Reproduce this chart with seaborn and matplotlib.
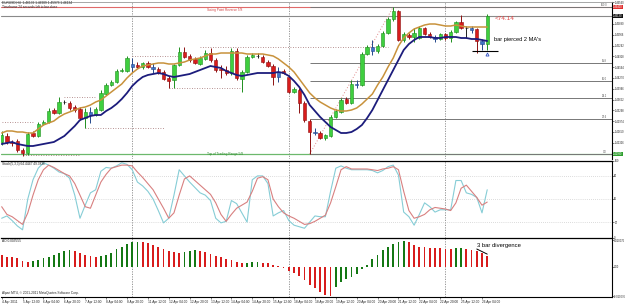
import numpy as np
import matplotlib
matplotlib.use("Agg")
import matplotlib.pyplot as plt
import matplotlib.transforms as mtransforms
import seaborn as sns

# EURUSD H4 candles
opens = [1.4235, 1.4253, 1.4235, 1.4238, 1.4211, 1.4202, 1.4262, 1.4253, 1.4289, 1.4295,
         1.4331, 1.4322, 1.4355, 1.4352, 1.4340, 1.4334, 1.4307, 1.4325, 1.4316, 1.4331,
         1.4379, 1.4406, 1.4415, 1.4448, 1.4448, 1.4469, 1.4466, 1.4460, 1.4472, 1.4460,
         1.4454, 1.4445, 1.4427, 1.4421, 1.4466, 1.4505, 1.4493, 1.4484, 1.4469, 1.4484,
         1.4502, 1.4481, 1.4454, 1.4451, 1.4442, 1.4508, 1.4424, 1.4445, 1.4490, 1.4493,
         1.4490, 1.4475, 1.4463, 1.4430, 1.4448, 1.4430, 1.4385, 1.4391, 1.4352, 1.4298,
         1.4265, 1.4262, 1.4247, 1.4253, 1.4310, 1.4325, 1.4364, 1.4352, 1.4409, 1.4406,
         1.4499, 1.4520, 1.4508, 1.4523, 1.4562, 1.4604, 1.4628, 1.4541, 1.4556, 1.4550,
         1.4547, 1.4577, 1.4559, 1.4550, 1.4544, 1.4559, 1.4547, 1.4565, 1.4595, 1.4577,
         1.4577, 1.4574, 1.4538, 1.4529]
highs = [1.4268, 1.4262, 1.4241, 1.4244, 1.4217, 1.4265, 1.4268, 1.4295, 1.4301, 1.4337,
         1.4337, 1.4370, 1.4361, 1.4358, 1.4346, 1.4340, 1.4337, 1.4340, 1.4340, 1.4391,
         1.4412, 1.4421, 1.4454, 1.4457, 1.4493, 1.4487, 1.4475, 1.4475, 1.4478, 1.4472,
         1.4460, 1.4451, 1.4433, 1.4469, 1.4520, 1.4520, 1.4499, 1.4490, 1.4493, 1.4511,
         1.4517, 1.4487, 1.4466, 1.4463, 1.4517, 1.4517, 1.4451, 1.4496, 1.4502, 1.4502,
         1.4496, 1.4481, 1.4469, 1.4460, 1.4454, 1.4436, 1.4400, 1.4397, 1.4358, 1.4304,
         1.4277, 1.4268, 1.4259, 1.4316, 1.4334, 1.4367, 1.4370, 1.4421, 1.4421, 1.4505,
         1.4526, 1.4541, 1.4529, 1.4568, 1.4610, 1.4640, 1.4631, 1.4565, 1.4562, 1.4577,
         1.4583, 1.4580, 1.4565, 1.4556, 1.4562, 1.4562, 1.4571, 1.4598, 1.4616, 1.4583,
         1.4583, 1.4577, 1.4544, 1.4619]
lows = [1.4226, 1.4229, 1.4223, 1.4205, 1.4193, 1.4196, 1.4250, 1.4250, 1.4286, 1.4292,
        1.4319, 1.4319, 1.4349, 1.4331, 1.4325, 1.4301, 1.4277, 1.4292, 1.4313, 1.4328,
        1.4376, 1.4403, 1.4412, 1.4445, 1.4445, 1.4445, 1.4457, 1.4454, 1.4457, 1.4442,
        1.4439, 1.4421, 1.4397, 1.4397, 1.4463, 1.4487, 1.4475, 1.4469, 1.4466, 1.4481,
        1.4475, 1.4445, 1.4427, 1.4436, 1.4436, 1.4421, 1.4385, 1.4442, 1.4487, 1.4487,
        1.4472, 1.4460, 1.4406, 1.4415, 1.4439, 1.4382, 1.4382, 1.4322, 1.4295, 1.4199,
        1.4256, 1.4244, 1.4241, 1.4250, 1.4307, 1.4322, 1.4349, 1.4349, 1.4397, 1.4403,
        1.4496, 1.4496, 1.4502, 1.4520, 1.4559, 1.4598, 1.4538, 1.4535, 1.4544, 1.4535,
        1.4544, 1.4556, 1.4547, 1.4535, 1.4541, 1.4541, 1.4535, 1.4562, 1.4574, 1.4547,
        1.4562, 1.4502, 1.4511, 1.4511]
closes = [1.4256, 1.4235, 1.4232, 1.4211, 1.4202, 1.4259, 1.4253, 1.4289, 1.4295, 1.4328,
          1.4322, 1.4355, 1.4355, 1.4337, 1.4331, 1.4307, 1.4325, 1.4316, 1.4334, 1.4382,
          1.4406, 1.4415, 1.4448, 1.4451, 1.4487, 1.4460, 1.4460, 1.4472, 1.4460, 1.4454,
          1.4442, 1.4424, 1.4418, 1.4466, 1.4505, 1.4490, 1.4481, 1.4472, 1.4487, 1.4502,
          1.4481, 1.4451, 1.4451, 1.4442, 1.4508, 1.4427, 1.4445, 1.4490, 1.4496, 1.4493,
          1.4475, 1.4463, 1.4430, 1.4445, 1.4442, 1.4385, 1.4394, 1.4352, 1.4301, 1.4265,
          1.4262, 1.4247, 1.4256, 1.4310, 1.4328, 1.4361, 1.4352, 1.4409, 1.4406, 1.4499,
          1.4520, 1.4508, 1.4523, 1.4562, 1.4604, 1.4628, 1.4541, 1.4559, 1.4550, 1.4562,
          1.4577, 1.4559, 1.4550, 1.4544, 1.4559, 1.4547, 1.4565, 1.4595, 1.4577, 1.4577,
          1.4571, 1.4538, 1.4529, 1.4613]
blue_bars = [17, 25, 29, 53, 60, 68, 71, 83, 90, 92]

# the two moving averages on the price chart
ma_fast = [1.4262, 1.4268, 1.4268, 1.4265, 1.4265, 1.4262, 1.4262, 1.4274, 1.4286, 1.4292,
           1.4298, 1.4310, 1.4319, 1.4325, 1.4331, 1.4337, 1.4340, 1.4346, 1.4355, 1.4361,
           1.4373, 1.4385, 1.4397, 1.4409, 1.4427, 1.4442, 1.4454, 1.4463, 1.4466, 1.4469,
           1.4472, 1.4472, 1.4469, 1.4469, 1.4472, 1.4475, 1.4481, 1.4484, 1.4487, 1.4493,
           1.4499, 1.4499, 1.4502, 1.4502, 1.4502, 1.4502, 1.4502, 1.4499, 1.4499, 1.4499,
           1.4499, 1.4496, 1.4493, 1.4484, 1.4472, 1.4460, 1.4445, 1.4424, 1.4403, 1.4382,
           1.4367, 1.4355, 1.4346, 1.4337, 1.4331, 1.4328, 1.4328, 1.4331, 1.4337, 1.4349,
           1.4364, 1.4379, 1.4406, 1.4430, 1.4460, 1.4487, 1.4523, 1.4547, 1.4562, 1.4574,
           1.4580, 1.4586, 1.4589, 1.4589, 1.4586, 1.4583, 1.4583, 1.4586, 1.4583, 1.4580,
           1.4580, 1.4580, 1.4580, 1.4580]
ma_slow = [1.4229, 1.4232, 1.4235, 1.4229, 1.4226, 1.4223, 1.4223, 1.4226, 1.4229, 1.4232,
           1.4235, 1.4244, 1.4253, 1.4268, 1.4283, 1.4301, 1.4307, 1.4313, 1.4316, 1.4316,
           1.4328, 1.4337, 1.4349, 1.4364, 1.4382, 1.4403, 1.4418, 1.4430, 1.4436, 1.4439,
           1.4442, 1.4439, 1.4433, 1.4430, 1.4433, 1.4436, 1.4439, 1.4445, 1.4451, 1.4457,
           1.4463, 1.4460, 1.4457, 1.4448, 1.4442, 1.4436, 1.4433, 1.4436, 1.4439, 1.4442,
           1.4442, 1.4442, 1.4442, 1.4445, 1.4442, 1.4433, 1.4418, 1.4400, 1.4376, 1.4346,
           1.4328, 1.4310, 1.4295, 1.4280, 1.4271, 1.4262, 1.4262, 1.4265, 1.4274, 1.4286,
           1.4307, 1.4331, 1.4361, 1.4391, 1.4421, 1.4451, 1.4481, 1.4511, 1.4529, 1.4541,
           1.4550, 1.4550, 1.4550, 1.4547, 1.4547, 1.4550, 1.4550, 1.4550, 1.4547, 1.4547,
           1.4544, 1.4544, 1.4541, 1.4538]

# Stochastic (5,3,3)
stoch_main = [25, 28, 22, 15, 10, 50, 75, 90, 97, 94, 90, 85, 83, 77, 55, 25, 42, 58, 62, 86,
              91, 90, 93, 97, 95, 88, 72, 67, 60, 50, 35, 19, 25, 55, 88, 80, 72, 65, 58, 55,
              48, 25, 19, 21, 48, 44, 32, 20, 75, 80, 80, 70, 28, 32, 35, 22, 16, 14, 12, 20,
              28, 27, 27, 60, 90, 93, 90, 88, 88, 88, 88, 87, 84, 87, 92, 94, 81, 33, 27, 16,
              30, 45, 40, 33, 36, 36, 36, 74, 74, 58, 56, 52, 32, 62]
stoch_signal = [40, 30, 27, 22, 17, 32, 55, 75, 88, 94, 91, 87, 83, 80, 70, 55, 40, 38, 55, 72,
                82, 90, 92, 94, 94, 93, 85, 78, 70, 62, 50, 38, 25, 32, 55, 76, 80, 74, 68, 62,
                56, 45, 30, 21, 30, 38, 42, 46, 60, 77, 79, 75, 50, 40, 32, 28, 25, 21, 17, 18,
                21, 25, 29, 45, 66, 88, 92, 89, 89, 89, 89, 88, 87, 89, 90, 92, 88, 60, 35, 25,
                27, 30, 36, 39, 38, 37, 35, 45, 64, 68, 60, 52, 42, 46]

# Awesome Oscillator
ao = [0.00389, 0.00333, 0.00311, 0.00278, 0.00189, 0.00156, 0.00189, 0.00222, 0.00278, 0.00333,
      0.00389, 0.00467, 0.00522, 0.00556, 0.00533, 0.00444, 0.00389, 0.00356, 0.00333, 0.00356,
      0.00389, 0.00467, 0.00578, 0.00667, 0.00756, 0.00822, 0.00833, 0.00811, 0.00778, 0.00722,
      0.00667, 0.00589, 0.00522, 0.00478, 0.00467, 0.00500, 0.00533, 0.00556, 0.00533, 0.00478,
      0.00422, 0.00356, 0.00311, 0.00267, 0.00222, 0.00167, 0.00111, 0.00133, 0.00144, 0.00156,
      0.00133, 0.00122, 0.00067, 0.00011, -0.00044, -0.00133, -0.00222, -0.00311, -0.00444, -0.00611,
      -0.00722, -0.00833, -0.00944, -0.00967, -0.00667, -0.00500, -0.00422, -0.00333, -0.00244, -0.00089,
      0.00056, 0.00244, 0.00389, 0.00556, 0.00667, 0.00756, 0.00822, 0.00844, 0.00811, 0.00722,
      0.00667, 0.00644, 0.00633, 0.00622, 0.00611, 0.00600, 0.00589, 0.00611, 0.00622, 0.00578,
      0.00556, 0.00533, 0.00444, 0.00356]

x_labels = ['4 Apr 2011', '5 Apr 12:00', '6 Apr 04:00', '6 Apr 20:00', '7 Apr 12:00',
            '8 Apr 04:00', '8 Apr 20:00', '11 Apr 12:00', '12 Apr 04:00', '12 Apr 20:00',
            '13 Apr 12:00', '14 Apr 04:00', '14 Apr 20:00', '15 Apr 12:00', '18 Apr 04:00',
            '18 Apr 20:00', '19 Apr 12:00', '20 Apr 04:00', '20 Apr 20:00', '21 Apr 12:00',
            '22 Apr 04:00', '22 Apr 20:00', '25 Apr 12:00', '26 Apr 04:00']
week_starts = [25, 55, 85]
price_ticks = [1.46540, 1.45890, 1.45566, 1.45242, 1.44918, 1.44594, 1.44270,
               1.43946, 1.43622, 1.43298, 1.42974, 1.42650, 1.42326]
stoch_ticks = [0, 20, 50, 80, 100]
ao_ticks = [0.0088, 0.0, -0.0098]
ao_tick_labels = ['0.010076', '0.00', '-0.010076']

# drawn objects
swing_price = 1.4640
range_price = 1.4199
fib_low_bar, fib_high_bar = 59, 75
fib_low, fib_high = 1.4199, 1.4640
fib_levels = [0.0, 0.236, 0.382, 0.5, 0.618, 1.0]
dotted_levels = [(0, 6, 1.4295), (12, 18, 1.4370), (16, 31, 1.4277), (25, 34, 1.4493),
                 (32, 46, 1.4397), (4, 15, 1.4196), (38, 74, 1.4520)]

GREEN, GREEN_E = '#3fcf3f', '#1f8f1f'
RED, RED_E = '#d81c1c', '#8c1010'
BLUE, BLUE_E = '#3f74c8', '#24488c'
TICK_FS = 1.9

sns.set_style("white")
plt.rcParams['font.family'] = ['Liberation Sans', 'DejaVu Sans']

W, H = 625, 304
fig = plt.figure(figsize=(W / 100, H / 100), dpi=100)


def px_axes(x0, y0, x1, y1):
    return fig.add_axes([x0 / W, 1 - y1 / H, (x1 - x0) / W, (y1 - y0) / H])


ax = px_axes(1, 1.5, 612, 158.5)
ax_st = px_axes(1, 160.5, 612, 237.5)
ax_ao = px_axes(1, 238, 612, 297)

idx = np.arange(len(opens))
o, hi, lo, c = (np.array(v) for v in (opens, highs, lows, closes))

body_col = np.where(c > o, GREEN, np.where(c < o, RED, '#202020')).astype('<U9')
edge_col = np.where(c > o, GREEN_E, np.where(c < o, RED_E, '#202020')).astype('<U9')
for b in blue_bars:
    body_col[b] = BLUE
    edge_col[b] = BLUE_E

# --- price panel ---
ax.axhline(swing_price, color='#e06a6a', lw=0.8, zorder=1)
ax.axhline(range_price, color='#6cb86c', lw=0.9, zorder=1)
ax.axhline(closes[-1], color='#8a8a8a', lw=0.8, zorder=1)
for s, e, p in dotted_levels:
    ax.hlines(p, s, e, colors='#a07070', lw=0.6, linestyles=(0, (1, 2)), zorder=1)
ytrans = mtransforms.blended_transform_factory(ax.transAxes, ax.transData)
for r in fib_levels:
    p = fib_low + r * (fib_high - fib_low)
    ax.hlines(p, fib_low_bar, 117, colors='#777777', lw=0.7, zorder=1)
    ax.text(0.992, p, f"{r * 100:.1f}", transform=ytrans,
            fontsize=TICK_FS, ha='right', va='bottom', color='#555555')
ax.plot([fib_low_bar, fib_high_bar], [fib_low, fib_high], ls=(0, (1, 2)), color='#e08888', lw=0.7, zorder=1)

ax.vlines(idx, lo, hi, colors=edge_col, lw=0.7, zorder=3)
ax.bar(idx, np.maximum(np.abs(c - o), 0.00006), bottom=np.minimum(o, c), width=0.64,
       color=body_col, edgecolor=edge_col, linewidth=0.4, zorder=4)

sns.lineplot(x=idx, y=ma_fast, ax=ax, color='#c8923c', lw=1.1, zorder=5, legend=False)
sns.lineplot(x=idx, y=ma_slow, ax=ax, color='#1c1c7c', lw=1.3, zorder=5, legend=False)

ax.text(39.3, swing_price - 0.0002, "Swing Point Reverse 5/8", fontsize=2.3, color='#d04040', va='top')
ax.text(39.3, range_price - 0.0001, "Top of Trading Range 5/8", fontsize=2.3, color='#2a8a2a', va='center')
ax.text(94.5, 1.4604, "<74.14", fontsize=4.6, color='#e04444', va='center')
ax.text(94.3, 1.4544, "bar pierced 2 MA's", fontsize=4.1, color='black', va='center')
ax.hlines(1.4508, 90, 95, colors='black', lw=0.8, zorder=6)
ax.plot([93], [1.4499], marker='^', ms=2.2, mfc='none', mec='#3050c0', mew=0.6, zorder=6)

ax.set_ylim(1.41855, 1.46565)
ax.yaxis.tick_right()
ax.set_yticks(price_ticks)
ax.set_yticklabels([f"{p:.5f}" for p in price_ticks])

for p, fc in [(swing_price, '#e03030'), (closes[-1], '#111111'), (range_price, '#2f9f2f')]:
    ax.text(1.002, p, f"{p:.5f}", transform=ytrans, fontsize=TICK_FS, color='white', va='center', ha='left',
            bbox=dict(boxstyle='square,pad=0.15', fc=fc, ec='none'))

# --- stochastic panel ---
for lv in [20, 50, 80]:
    ax_st.axhline(lv, color='#bbbbbb', lw=0.5, ls=(0, (1, 2)))
sns.lineplot(x=idx, y=stoch_main, ax=ax_st, color='#86cdd6', lw=0.8, legend=False)
sns.lineplot(x=idx, y=stoch_signal, ax=ax_st, color='#d88080', lw=0.8, legend=False)
ax_st.set_ylim(0, 100)
ax_st.yaxis.tick_right()
ax_st.set_yticks(stoch_ticks)
ax_st.set_yticklabels([str(t) for t in stoch_ticks])

# --- AO panel ---
ao_arr = np.array(ao)
ao_col = ['#d81c1c'] + ['#147814' if ao_arr[i] > ao_arr[i - 1] else '#d81c1c' for i in range(1, len(ao_arr))]
ax_ao.bar(idx, ao_arr, width=0.34, color=ao_col, linewidth=0)
ax_ao.text(91.1, 0.00723, "3 bar divergence", fontsize=4.2, color='black', va='center')
ax_ao.plot([91, 93], [0.0059, 0.0042], color='black', lw=0.7)
ax_ao.set_ylim(-0.0101, 0.00957)
ax_ao.yaxis.tick_right()
ax_ao.set_yticks(ao_ticks)
ax_ao.set_yticklabels(ao_tick_labels)
ax_ao.set_xticks(np.arange(0, len(x_labels) * 4, 4))
ax_ao.set_xticklabels(x_labels, ha='left')

for a in (ax, ax_st, ax_ao):
    a.set_xlim(-0.13, 116.9)
    for b in week_starts:
        a.axvline(b, color='#888888', lw=0.6, ls=(0, (1.5, 1.5)), zorder=0)
    a.tick_params(axis='y', which='both', right=True, left=False, labelsize=TICK_FS, length=1.2,
                  width=0.4, pad=0.5, colors='#222222')
    a.spines['left'].set_visible(False)
    a.spines['right'].set_color('black')
    a.spines['right'].set_linewidth(0.8)
    a.set_xlabel('')
    a.set_ylabel('')
    a.grid(False)

for a in (ax, ax_st):
    a.tick_params(axis='x', bottom=False, labelbottom=False)
    a.spines['bottom'].set_visible(False)
ax.spines['top'].set_color('#999999')
ax.spines['top'].set_linewidth(0.6)
ax_st.spines['top'].set_color('black')
ax_st.spines['top'].set_linewidth(0.9)
ax_ao.spines['top'].set_color('black')
ax_ao.spines['top'].set_linewidth(0.9)
ax_ao.spines['bottom'].set_color('black')
ax_ao.spines['bottom'].set_linewidth(0.8)
ax_ao.tick_params(axis='x', bottom=True, labelsize=2.3, length=1.5, width=0.4, pad=0.8, colors='#222222')

# window captions
fig.text(2 / W, 1 - 3 / H, "EURUSD,H4  1.46132 1.46209 1.45973 1.46134", fontsize=2.3, va='center')
fig.text(2 / W, 1 - 6.5 / H, "Timeframe 24 seconds left to bar close", fontsize=2.3, va='center')
fig.text(2 / W, 1 - 164 / H, "Stoch(5,3,3) 64.4447 49.3836", fontsize=2.3, va='center')
fig.text(2 / W, 1 - 241.5 / H, "AO 0.003555", fontsize=2.3, va='center')
fig.text(2 / W, 1 - 293 / H, "Alpari MT4, \u00a9 2001-2011 MetaQuotes Software Corp.", fontsize=2.3, va='center')

fig.savefig("out.png", dpi=100, facecolor='white')
